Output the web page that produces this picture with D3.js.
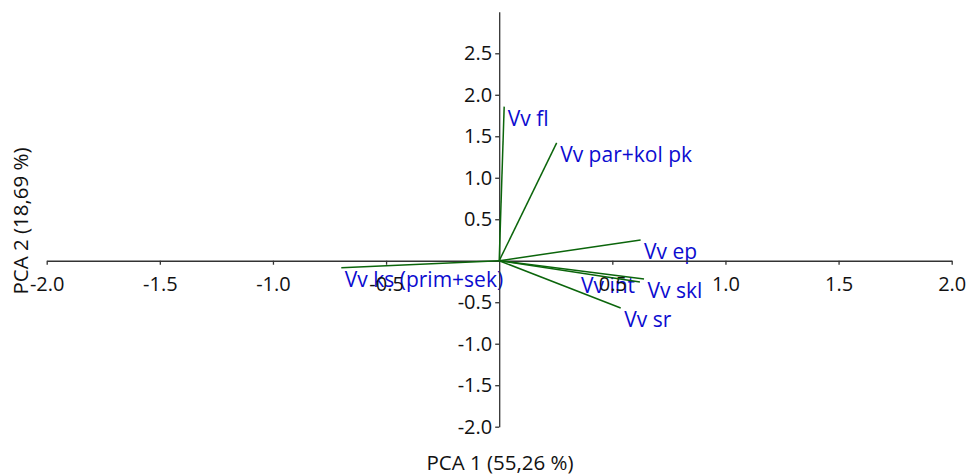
<!DOCTYPE html>
<html>
<head>
<meta charset="utf-8">
<script src="https://cdn.jsdelivr.net/npm/d3@7"></script>
<style>
  html, body { margin: 0; padding: 0; background: #fff; }
  svg text { font-family: "Open Sans", "Noto Sans", sans-serif; }
</style>
</head>
<body>
<svg id="chart" width="967" height="476"></svg>
<script>
// Data
const variables = ["Vv fl", "Vv par+kol pk", "Vv ep", "Vv skl", "Vv int", "Vv sr", "Vv ks (prim+sek)"];
const pc1 = [0.022, 0.254, 0.625, 0.640, 0.622, 0.537, -0.698];
const pc2 = [1.857, 1.420, 0.250, -0.220, -0.255, -0.570, -0.083];
const xTicks = [-2.0, -1.5, -1.0, -0.5, 0.5, 1.0, 1.5, 2.0];
const yTicks = [-2.0, -1.5, -1.0, -0.5, 0.5, 1.0, 1.5, 2.0, 2.5];
const xTitle = "PCA 1 (55,26 %)";
const yTitle = "PCA 2 (18,69 %)";

const svg = d3.select("#chart");
const x = d3.scaleLinear().domain([-2, 2]).range([46.7, 951.7]);
const y = d3.scaleLinear().domain([-2, 3]).range([426.7, 11.8]);

const fontSize = 20;
const labelSize = 21;
const axisColor = "#333";
const fmt = d => d.toFixed(1);

// labels (drawn first, beneath axes & vectors)
const labelOffset = { "Vv int": [-59, 11] };
const gLab = svg.append("g");
variables.forEach((v, i) => {
  const off = labelOffset[v] || [3.5, 19.2];
  gLab.append("text")
    .attr("x", x(pc1[i]) + off[0])
    .attr("y", y(pc2[i]) + off[1])
    .attr("fill", "#0c0cd0")
    .attr("font-size", labelSize)
    .text(v);
});

// X axis at y=0
const xAxis = d3.axisBottom(x).tickValues(xTicks).tickFormat(fmt)
  .tickSize(4).tickPadding(12).tickSizeOuter(0);
const gx = svg.append("g").attr("transform", `translate(0,${y(0)})`).call(xAxis);
gx.select(".domain").attr("stroke", axisColor).attr("stroke-width", 1.3);
gx.selectAll(".tick line").attr("stroke", axisColor).attr("stroke-width", 1.3);
gx.selectAll(".tick text").attr("font-size", fontSize).attr("fill", "#111")
  .attr("font-family", '"Open Sans", "Noto Sans", sans-serif');

// Y axis at x=0
const yAxis = d3.axisLeft(y).tickValues(yTicks).tickFormat(fmt)
  .tickSize(4).tickPadding(3).tickSizeOuter(0);
const gy = svg.append("g").attr("transform", `translate(${x(0)},0)`).call(yAxis);
gy.select(".domain").attr("stroke", axisColor).attr("stroke-width", 1.3);
gy.selectAll(".tick line").attr("stroke", axisColor).attr("stroke-width", 1.3);
gy.selectAll(".tick text").attr("font-size", fontSize).attr("fill", "#111")
  .attr("font-family", '"Open Sans", "Noto Sans", sans-serif');

// vectors
svg.append("g").selectAll("line").data(variables).join("line")
  .attr("x1", x(0)).attr("y1", y(0))
  .attr("x2", (d, i) => x(pc1[i]))
  .attr("y2", (d, i) => y(pc2[i]))
  .attr("stroke", "#0b650b")
  .attr("stroke-width", 1.5);

// axis titles
svg.append("text")
  .attr("x", 500).attr("y", 469.5)
  .attr("text-anchor", "middle")
  .attr("font-size", 20.5).attr("fill", "#111")
  .text(xTitle);
svg.append("text")
  .attr("transform", "translate(27.5,221) rotate(-90)")
  .attr("text-anchor", "middle")
  .attr("font-size", 20.5).attr("fill", "#111")
  .text(yTitle);
</script>
</body>
</html>
